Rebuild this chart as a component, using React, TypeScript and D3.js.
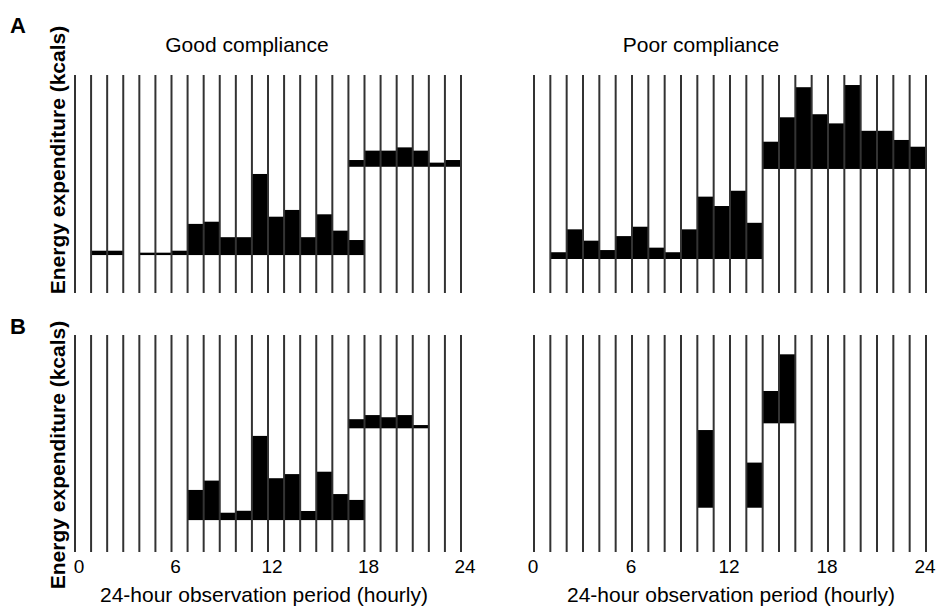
import React, { useEffect, useRef } from 'react';
import * as d3 from 'd3';

// hourly grid, 0..24
const hours = [0, 1, 2, 3, 4, 5, 6, 7, 8, 9, 10, 11, 12, 13, 14, 15, 16, 17, 18, 19, 20, 21, 22, 23, 24];
const hourTicks = [0, 6, 12, 18, 24];

// Relative energy expenditure (0-100 = panel height), one value per hour slot, null = no bar
// Panel A - good compliance
const goodALowBase = 17.4;
const goodALow = [null, 19.4, 19.4, null, 18.5, 18.5, 19.4, 31.7, 32.7, 25.6, 25.6, 54.6, 35.0, 38.1, 25.6, 36.1, 28.6, 24.3, null, null, null, null, null, null];
const goodAHighBase = 57.9;
const goodAHigh = [null, null, null, null, null, null, null, null, null, null, null, null, null, null, null, null, null, 61.0, 65.3, 65.3, 66.8, 65.3, 59.8, 61.0];

// Panel A - poor compliance
const poorALowBase = 15.6;
const poorALow = [null, 18.7, 29.2, 24.0, 19.7, 26.1, 30.4, 20.8, 18.7, 29.2, 44.2, 39.9, 46.9, 32.2, null, null, null, null, null, null, null, null, null, null];
const poorAHighBase = 56.9;
const poorAHigh = [null, null, null, null, null, null, null, null, null, null, null, null, null, null, 69.4, 80.6, 94.4, 82.0, 77.8, 95.4, 74.4, 74.4, 70.2, 67.1];

// Panel B - good compliance
const goodBLowBase = 14.7;
const goodBLow = [null, null, null, null, null, null, null, 28.6, 32.9, 18.1, 19.0, 53.5, 34.0, 35.9, 18.9, 37.0, 26.7, 24.0, null, null, null, null, null, null];
const goodBHighBase = 57.0;
const goodBHigh = [null, null, null, null, null, null, null, null, null, null, null, null, null, null, null, null, null, 61.2, 63.1, 62.1, 63.1, 58.5, null, null];

// Panel B - poor compliance
const poorBLowBase = 20.4;
const poorBLow = [null, null, null, null, null, null, null, null, null, null, 56.2, null, null, 41.2, null, null, null, null, null, null, null, null, null, null];
const poorBHighBase = 59.3;
const poorBHigh = [null, null, null, null, null, null, null, null, null, null, null, null, null, null, 74.2, 91.1, null, null, null, null, null, null, null, null];

const titles = ['Good compliance', 'Poor compliance'];
const panelLetters = ['A', 'B'];
const yLabel = 'Energy expenditure (kcals)';
const xLabel = '24-hour observation period (hourly)';

const W = 937;
const H = 607;
const FONT = '"Liberation Sans", Arial, Helvetica, sans-serif';

const App: React.FC = () => {
  const svgRef = useRef<SVGSVGElement>(null);

  useEffect(() => {
    if (!svgRef.current) return;
    const svg = d3.select(svgRef.current);
    svg.selectAll('*').remove();

    const cols = [
      { x0: 75, x1: 461, titleX: 247, labelX: 264, tickDx: 4 },
      { x0: 534, x1: 926, titleX: 701, labelX: 731, tickDx: -1 },
    ];
    const rows = [
      { top: 75, bottom: 293, letterY: 33, yLabelMid: 160 },
      { top: 335, bottom: 552, letterY: 334, yLabelMid: 455 },
    ];

    const panels = [
      [
        [{ base: goodALowBase, tops: goodALow }, { base: goodAHighBase, tops: goodAHigh }],
        [{ base: poorALowBase, tops: poorALow }, { base: poorAHighBase, tops: poorAHigh }],
      ],
      [
        [{ base: goodBLowBase, tops: goodBLow }, { base: goodBHighBase, tops: goodBHigh }],
        [{ base: poorBLowBase, tops: poorBLow }, { base: poorBHighBase, tops: poorBHigh }],
      ],
    ];

    rows.forEach((row, ri) => {
      const yScale = d3.scaleLinear().domain([0, 100]).range([row.bottom, row.top]);

      // panel letter
      svg.append('text')
        .attr('x', 10)
        .attr('y', row.letterY)
        .style('font-family', FONT)
        .style('font-weight', 'bold')
        .style('font-size', '22px')
        .text(panelLetters[ri]);

      // y axis label
      svg.append('text')
        .attr('transform', `translate(65,${row.yLabelMid}) rotate(-90)`)
        .style('text-anchor', 'middle')
        .style('font-family', FONT)
        .style('font-weight', 'bold')
        .style('font-size', '21px')
        .text(yLabel);

      cols.forEach((col, ci) => {
        const xScale = d3.scaleLinear().domain([0, 24]).range([col.x0, col.x1]);
        const g = svg.append('g');

        panels[ri][ci].forEach(group => {
          const bars = group.tops
            .map((top, h) => ({ h, top }))
            .filter(d => d.top !== null) as { h: number; top: number }[];
          g.selectAll(null)
            .data(bars)
            .enter()
            .append('rect')
            .attr('x', d => xScale(d.h))
            .attr('width', d => xScale(d.h + 1) - xScale(d.h))
            .attr('y', d => yScale(d.top))
            .attr('height', d => yScale(group.base) - yScale(d.top))
            .attr('fill', '#000');
        });

        g.selectAll(null)
          .data(hours)
          .enter()
          .append('line')
          .attr('x1', d => xScale(d))
          .attr('x2', d => xScale(d))
          .attr('y1', yScale(100))
          .attr('y2', yScale(0))
          .attr('stroke', '#333')
          .attr('stroke-width', 2);

        if (ri === 0) {
          svg.append('text')
            .attr('x', col.titleX)
            .attr('y', 52)
            .style('text-anchor', 'middle')
            .style('font-family', FONT)
            .style('font-size', '21px')
            .text(titles[ci]);
        }

        if (ri === 1) {
          g.selectAll(null)
            .data(hourTicks)
            .enter()
            .append('text')
            .attr('x', d => xScale(d) + col.tickDx)
            .attr('y', 573)
            .style('text-anchor', 'middle')
            .style('font-family', FONT)
            .style('font-size', '19px')
            .text(d => String(d));

          svg.append('text')
            .attr('x', col.labelX)
            .attr('y', 602)
            .style('text-anchor', 'middle')
            .style('font-family', FONT)
            .style('font-size', '21px')
            .text(xLabel);
        }
      });
    });
  }, []);

  return (
    <svg
      ref={svgRef}
      width={W}
      height={H}
      style={{ position: 'absolute', left: 0, top: 0, background: '#fff' }}
    />
  );
};

export default App;
